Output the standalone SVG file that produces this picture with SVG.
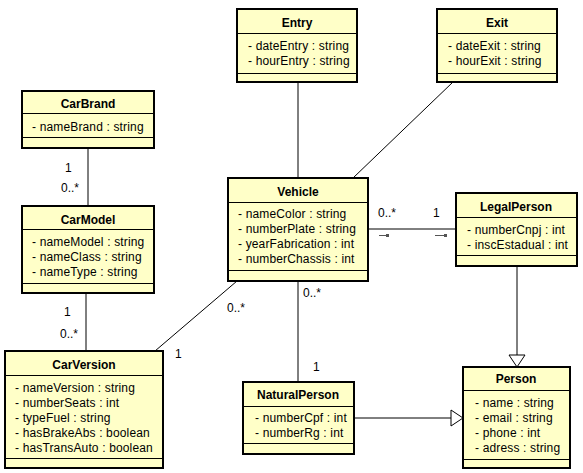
<svg xmlns="http://www.w3.org/2000/svg" width="583" height="473" viewBox="0 0 583 473">
<style>
.box{fill:#ffffc8;stroke:#000;stroke-width:2}
.div{stroke:#000;stroke-width:1}
.t{font-family:"Liberation Sans",Arial,sans-serif;font-size:12px;font-weight:bold;text-anchor:middle;fill:#000}
.a{font-family:"Liberation Sans",Arial,sans-serif;font-size:12px;letter-spacing:0.15px;fill:#000}
.m{font-family:"Liberation Sans",Arial,sans-serif;font-size:12px;fill:#000}
.c{stroke:#000;stroke-width:1;fill:none}
.nav{stroke:#555;stroke-width:1}
.navh{fill:#555}
</style>
<defs>
<marker id="gen" markerUnits="userSpaceOnUse" markerWidth="20" markerHeight="20" viewBox="0 0 20 20" refX="19" refY="10" orient="auto">
<polygon points="7,2 19,10 7,18" fill="#fff" stroke="#000" stroke-width="1"/>
</marker>
</defs>
<rect width="583" height="473" fill="#fff"/>
<g id="connectors">
<line class="c" x1="88" y1="148" x2="88" y2="206"/>
<line class="c" x1="86" y1="293" x2="86" y2="351"/>
<line class="c" x1="298" y1="82" x2="298" y2="178"/>
<line class="c" x1="453" y1="82" x2="353" y2="178"/>
<line class="c" x1="368" y1="229" x2="456" y2="229"/>
<line class="c" x1="237" y1="281" x2="155" y2="351"/>
<line class="c" x1="298" y1="281" x2="298" y2="382"/>
<line class="c" x1="517" y1="266" x2="517" y2="367" marker-end="url(#gen)"/>
<line class="c" x1="354" y1="418" x2="463" y2="418" marker-end="url(#gen)"/>
<line class="nav" x1="379" y1="235.5" x2="387" y2="235.5"/>
<rect class="navh" x="386" y="234" width="3" height="3"/>
<line class="nav" x1="435" y1="235.5" x2="444" y2="235.5"/>
<rect class="navh" x="444" y="234" width="3" height="3"/>
<text class="m" x="65" y="172">1</text>
<text class="m" x="61" y="192">0..*</text>
<text class="m" x="64" y="316">1</text>
<text class="m" x="60" y="338">0..*</text>
<text class="m" x="227" y="312">0..*</text>
<text class="m" x="175" y="358">1</text>
<text class="m" x="378" y="217">0..*</text>
<text class="m" x="433" y="217">1</text>
<text class="m" x="303" y="297">0..*</text>
<text class="m" x="313" y="371">1</text>
</g>
<g id="CarBrand">
<rect class="box" x="22" y="91" width="132" height="57"/>
<line class="div" x1="22" y1="113.5" x2="154" y2="113.5"/>
<line class="div" x1="22" y1="137.5" x2="154" y2="137.5"/>
<text class="t" x="88" y="108">CarBrand</text>
<text class="a" x="32" y="131">- nameBrand : string</text>
</g>
<g id="CarModel">
<rect class="box" x="22" y="206" width="132" height="87"/>
<line class="div" x1="22" y1="229.5" x2="154" y2="229.5"/>
<line class="div" x1="22" y1="283.5" x2="154" y2="283.5"/>
<text class="t" x="88" y="224">CarModel</text>
<text class="a" x="32" y="246">- nameModel : string</text>
<text class="a" x="32" y="261">- nameClass : string</text>
<text class="a" x="32" y="276">- nameType : string</text>
</g>
<g id="CarVersion">
<rect class="box" x="5" y="351" width="158" height="117"/>
<line class="div" x1="5" y1="375.5" x2="163" y2="375.5"/>
<line class="div" x1="5" y1="458.5" x2="163" y2="458.5"/>
<text class="t" x="84" y="369">CarVersion</text>
<text class="a" x="15" y="392">- nameVersion : string</text>
<text class="a" x="15" y="407">- numberSeats : int</text>
<text class="a" x="15" y="422">- typeFuel : string</text>
<text class="a" x="15" y="437">- hasBrakeAbs : boolean</text>
<text class="a" x="15" y="452">- hasTransAuto : boolean</text>
</g>
<g id="Entry">
<rect class="box" x="237" y="9" width="120" height="73"/>
<line class="div" x1="237" y1="33.5" x2="357" y2="33.5"/>
<line class="div" x1="237" y1="73.5" x2="357" y2="73.5"/>
<text class="t" x="297" y="27">Entry</text>
<text class="a" x="248" y="50">- dateEntry : string</text>
<text class="a" x="248" y="65">- hourEntry : string</text>
</g>
<g id="Exit">
<rect class="box" x="437" y="9" width="120" height="73"/>
<line class="div" x1="437" y1="33.5" x2="557" y2="33.5"/>
<line class="div" x1="437" y1="73.5" x2="557" y2="73.5"/>
<text class="t" x="497" y="27">Exit</text>
<text class="a" x="448" y="50">- dateExit : string</text>
<text class="a" x="448" y="65">- hourExit : string</text>
</g>
<g id="Vehicle">
<rect class="box" x="228" y="178" width="140" height="103"/>
<line class="div" x1="228" y1="202.5" x2="368" y2="202.5"/>
<line class="div" x1="228" y1="270.5" x2="368" y2="270.5"/>
<text class="t" x="298" y="196">Vehicle</text>
<text class="a" x="238" y="218">- nameColor : string</text>
<text class="a" x="238" y="233">- numberPlate : string</text>
<text class="a" x="238" y="248">- yearFabrication : int</text>
<text class="a" x="238" y="263">- numberChassis : int</text>
</g>
<g id="LegalPerson">
<rect class="box" x="456" y="193" width="121" height="73"/>
<line class="div" x1="456" y1="217.5" x2="577" y2="217.5"/>
<line class="div" x1="456" y1="255.5" x2="577" y2="255.5"/>
<text class="t" x="516" y="211">LegalPerson</text>
<text class="a" x="467" y="234">- numberCnpj : int</text>
<text class="a" x="467" y="249">- inscEstadual : int</text>
</g>
<g id="NaturalPerson">
<rect class="box" x="243" y="382" width="111" height="72"/>
<line class="div" x1="243" y1="406.5" x2="354" y2="406.5"/>
<line class="div" x1="243" y1="443.5" x2="354" y2="443.5"/>
<text class="t" x="298" y="399">NaturalPerson</text>
<text class="a" x="255" y="422">- numberCpf : int</text>
<text class="a" x="255" y="437">- numberRg : int</text>
</g>
<g id="Person">
<rect class="box" x="463" y="367" width="107" height="101"/>
<line class="div" x1="463" y1="390.5" x2="570" y2="390.5"/>
<line class="div" x1="463" y1="459.5" x2="570" y2="459.5"/>
<text class="t" x="516" y="383">Person</text>
<text class="a" x="475" y="407">- name : string</text>
<text class="a" x="475" y="422">- email : string</text>
<text class="a" x="475" y="437">- phone : int</text>
<text class="a" x="475" y="452">- adress : string</text>
</g>
</svg>
